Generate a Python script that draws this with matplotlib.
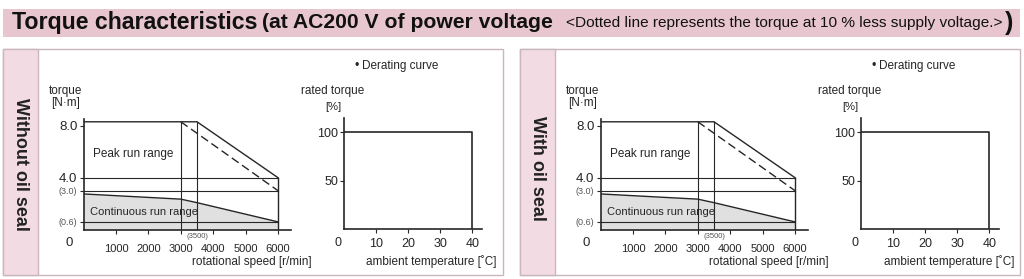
import matplotlib
matplotlib.use('Agg')
import matplotlib.pyplot as plt
from matplotlib.patches import Rectangle

# data
speed_peak = [0, 3500, 6000]
torque_peak = [8.3, 8.3, 4.0]
speed_dotted = [3000, 6000]
torque_dotted = [8.3, 3.0]
speed_cont = [0, 3000, 3500, 6000]
torque_cont = [2.75, 2.35, 2.08, 0.6]
speed_ticks = [1000, 2000, 3000, 4000, 5000, 6000]
torque_ticks = [0.6, 3.0, 4.0, 8.0]
torque_labels = ['(0.6)', '(3.0)', '4.0', '8.0']
torque_lines = [0.6, 3.0, 4.0]
speed_marks = [3000, 3500]
temp = [0, 40, 40]
rated = [100, 100, 0]
temp_ticks = [10, 20, 30, 40]
rated_ticks = [50, 100]
panels = ['Without oil seal', 'With oil seal']

W, H = 1024, 279
INK = '#262626'
plt.rcParams['font.family'] = ['Liberation Sans', 'DejaVu Sans']

fig = plt.figure(figsize=(W / 100, H / 100), dpi=100)
renderer = fig.canvas.get_renderer()


# pixel box -> figure rect
def fr(x0, y0, x1, y1):
    return [x0 / W, 1 - y1 / H, (x1 - x0) / W, (y1 - y0) / H]


def ftext(x, y, s, **kw):
    return fig.text(x / W, 1 - y / H, s, color=kw.pop('color', INK), **kw)


def frect(x0, y0, x1, y1, **kw):
    fig.add_artist(Rectangle((x0 / W, 1 - y1 / H), (x1 - x0) / W, (y1 - y0) / H,
                             transform=fig.transFigure, zorder=-5, **kw))


# title bar
frect(3, 9, 1020, 37, facecolor='#e8c6d0', edgecolor='none')
parts = [('Torque characteristics', 'bold', 12, 258),
         ('(at AC200 V of power voltage', 'bold', 262, 553),
         ('<Dotted line represents the torque at 10 % less supply voltage.>', 'normal', 566, 1003),
         (')', 'bold', 1005, 1014)]
for s, wt, x0, x1 in parts:
    t = ftext(x0, 23, s, fontsize=10, weight=wt, va='center', color='#111111')
    w = t.get_window_extent(renderer).width
    t.set_fontsize(10 * (x1 - x0) / w)
    if s == ')':
        t.set_fontsize(18)


def draw_panel(dx, label, label_y):
    # frame and side strip
    frect(3 + dx, 49, 503 + dx, 275, facecolor='white', edgecolor='#c9b6be', lw=1)
    frect(3 + dx, 49, 38 + dx, 275, facecolor='#f3dbe3', edgecolor='#c9b6be', lw=1)
    ftext(20.5 + dx, label_y, label, rotation=-90, fontsize=13, weight='bold',
          ha='center', va='center', color='#222222')

    # torque chart
    ax = fig.add_axes(fr(83.6 + dx, 119.2, 291 + dx, 229.7))
    ax.set_xlim(0, 6400)
    ax.set_ylim(0, 8.5)
    ax.fill_between(speed_cont, torque_cont, 0, color='#e0e0e0', lw=0)
    ax.plot(speed_cont, torque_cont, color=INK, lw=1.0)
    ax.plot(speed_peak, torque_peak, color=INK, lw=1.0)
    ax.plot(speed_dotted, torque_dotted, color=INK, lw=1.0, ls=(0, (6, 3)))
    for v in torque_lines:
        ax.plot([0, speed_peak[-1]], [v, v], color=INK, lw=0.8)
    for s in speed_marks:
        ax.plot([s, s], [0, torque_peak[0]], color=INK, lw=0.8)
    ax.plot([speed_peak[-1]] * 2, [0, torque_peak[-1]], color=INK, lw=1.0)
    ax.set_xticks(speed_ticks)
    ax.set_xticklabels([str(v) for v in speed_ticks])
    ax.set_yticks(torque_ticks)
    ax.set_yticklabels(torque_labels)
    ax.tick_params(axis='x', length=3, width=0.8, pad=7, labelsize=8, colors=INK)
    ax.tick_params(axis='y', length=3, width=0.8, pad=1.5, labelsize=9.5, colors=INK)
    for lab in ax.get_yticklabels():
        if lab.get_text().startswith('('):
            lab.set_fontsize(6.5)
            lab.set_color('#555555')
    ax.text(3500, -0.25, '(3500)', fontsize=5.5, color='#555555', ha='center', va='top')
    ax.text(-450, -1.0, '0', fontsize=9.5, color=INK, ha='center', va='center')
    ax.text(280, 5.8, 'Peak run range', fontsize=8.5, color=INK, va='center')
    ax.text(200, 1.34, 'Continuous run range', fontsize=8, color=INK, va='center')
    for sp in ['top', 'right']:
        ax.spines[sp].set_visible(False)
    for sp in ['left', 'bottom']:
        ax.spines[sp].set_linewidth(1.2)
        ax.spines[sp].set_color(INK)
    ax.patch.set_alpha(0)
    ftext(66 + dx, 91, 'torque', fontsize=8.5, ha='center', va='center')
    ftext(66 + dx, 103, '[N·m]', fontsize=8.5, ha='center', va='center')
    ftext(312 + dx, 262, 'rotational speed [r/min]', fontsize=8.5, ha='right', va='center')

    # derating curve
    bx = fig.add_axes(fr(343.5 + dx, 117.9, 482 + dx, 229))
    bx.set_xlim(0, 43)
    bx.set_ylim(0, 115)
    bx.plot(temp, rated, color=INK, lw=1.2)
    bx.set_xticks(temp_ticks)
    bx.set_yticks(rated_ticks)
    bx.tick_params(axis='x', length=3, width=0.8, pad=3.5, labelsize=9, colors=INK)
    bx.tick_params(axis='y', length=3, width=0.8, pad=1, labelsize=9, colors=INK)
    bx.text(-1.8, -14.5, '0', fontsize=9, color=INK, ha='center', va='center')
    for sp in ['top', 'right']:
        bx.spines[sp].set_visible(False)
    for sp in ['left', 'bottom']:
        bx.spines[sp].set_linewidth(1.2)
        bx.spines[sp].set_color(INK)
    bx.patch.set_alpha(0)
    ftext(357 + dx, 66, '\u2022', fontsize=9, ha='center', va='center')
    ftext(362 + dx, 66, 'Derating curve', fontsize=8.5, va='center')
    ftext(333 + dx, 91, 'rated torque', fontsize=8.5, ha='center', va='center')
    ftext(333 + dx, 106.5, '[%]', fontsize=8, ha='center', va='center')
    ftext(497 + dx, 262, 'ambient temperature [\u02daC]', fontsize=8.5, ha='right', va='center')


draw_panel(0, panels[0], 164)
draw_panel(517, panels[1], 168)

fig.savefig('out.png', dpi=100)
